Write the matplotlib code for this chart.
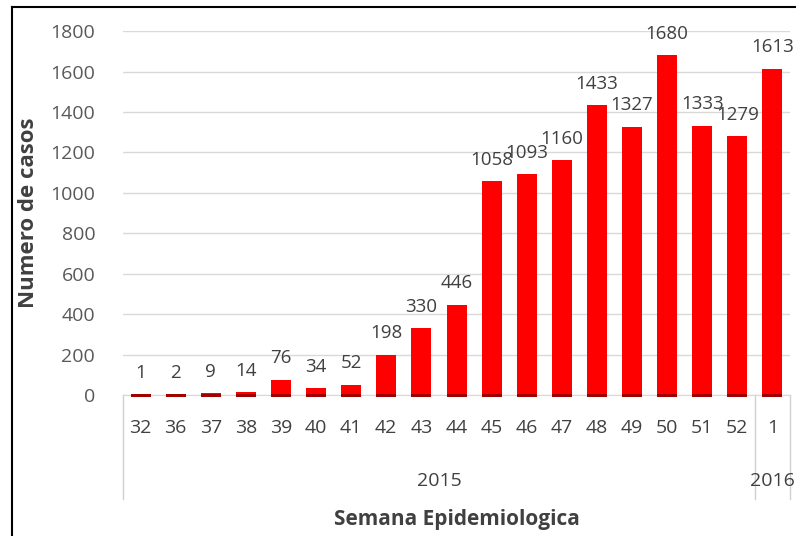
import matplotlib.pyplot as plt
from matplotlib.lines import Line2D
import numpy as np

# Casos por semana epidemiologica
semanas = ["32", "36", "37", "38", "39", "40", "41", "42", "43", "44",
           "45", "46", "47", "48", "49", "50", "51", "52", "1"]
casos = [1, 2, 9, 14, 76, 34, 52, 198, 330, 446,
         1058, 1093, 1160, 1433, 1327, 1680, 1333, 1279, 1613]
anos = ["2015", "2016"]
semanas_por_ano = [18, 1]
y_ticks = [0, 200, 400, 600, 800, 1000, 1200, 1400, 1600, 1800]

plt.rcParams["font.family"] = ["Open Sans", "DejaVu Sans"]

fig = plt.figure(figsize=(7.96, 5.36), dpi=100)
ax = fig.add_axes([0.1545, 0.263, 0.838, 0.679])

x = np.arange(len(semanas))
ax.bar(x, casos, width=0.57, color="#ff0000", zorder=3)
# franja oscura en la base de cada barra
ax.bar(x, 14, bottom=-8, width=0.57, color="#a00000", zorder=4, clip_on=False)

for xi, v in zip(x, casos):
    ax.annotate(str(v), (xi, v), xytext=(0, 9), textcoords="offset points",
                ha="center", va="bottom", fontsize=13.5, color="#404040")

ax.set_xlim(-0.5, len(semanas) - 0.5)
ax.set_ylim(0, 1800)
ax.set_yticks(y_ticks)
ax.grid(axis="y", color="#d9d9d9", linewidth=1, zorder=0)
ax.set_axisbelow(True)
for s in ["left", "right", "top"]:
    ax.spines[s].set_visible(False)
ax.spines["bottom"].set_color("#d9d9d9")

ax.set_xticks(x)
ax.set_xticklabels(semanas)
ax.tick_params(axis="x", length=0, pad=17, labelsize=14, labelcolor="#404040")
ax.tick_params(axis="y", length=0, pad=20, labelsize=14, labelcolor="#595959")

# separadores y etiquetas de año
trans = ax.get_xaxis_transform()
bordes = np.concatenate([[0], np.cumsum(semanas_por_ano)]) - 0.5
for b in bordes:
    ax.plot([b, b], [0, -0.285], transform=trans, color="#d0d0d0",
            linewidth=1, clip_on=False)
for ano, a, b in zip(anos, bordes[:-1], bordes[1:]):
    ax.text((a + b) / 2, -0.235, ano, transform=trans, ha="center",
            va="center", fontsize=14, color="#404040")

ax.text(0.5, -0.343, "Semana Epidemiologica", transform=ax.transAxes,
        ha="center", va="center", fontsize=15, fontweight="bold",
        color="#404040")
ax.set_ylabel("Numero de casos", fontsize=16, fontweight="bold",
              color="#404040", labelpad=8)

# marco de la imagen
fig.add_artist(Line2D([12 / 796, 12 / 796], [0, 1 - 7 / 536],
                      transform=fig.transFigure, color="black", linewidth=1.5))
fig.add_artist(Line2D([12 / 796, 1], [1 - 7 / 536, 1 - 7 / 536],
                      transform=fig.transFigure, color="black", linewidth=1.5))

fig.savefig("out.png", dpi=100)
